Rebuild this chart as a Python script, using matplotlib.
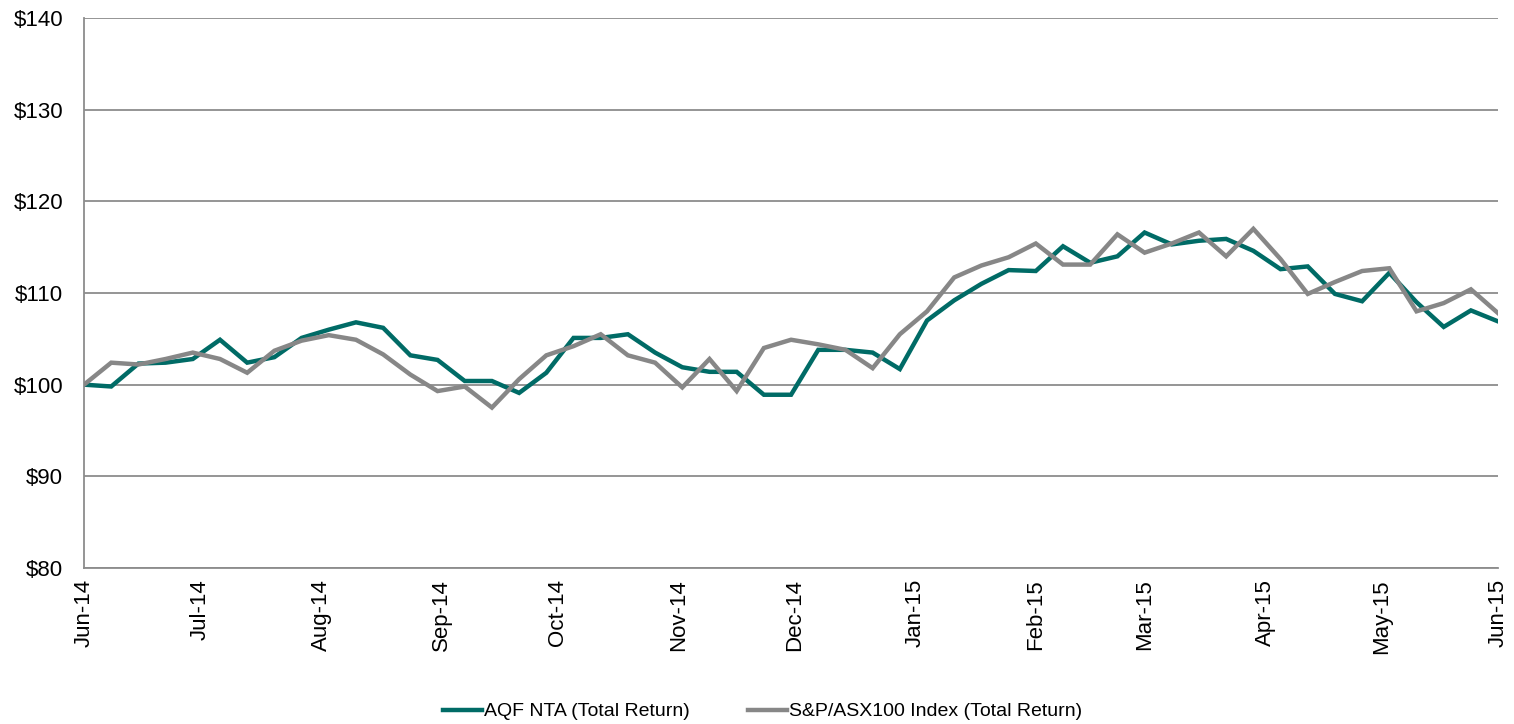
import matplotlib
matplotlib.use("Agg")
import matplotlib.pyplot as plt
import matplotlib.dates as mdates
import numpy as np
import pandas as pd

# weekly observations, Jun-14 to Jun-15
dates = pd.date_range("2014-06-06", periods=53, freq="7D")

aqf_nta = [
    100.0, 99.8, 102.3, 102.4, 102.8, 104.9, 102.4, 103.0, 105.1, 106.0,
    106.8, 106.2, 103.2, 102.7, 100.4, 100.4, 99.1, 101.3, 105.1, 105.1,
    105.5, 103.5, 101.9, 101.4, 101.4, 98.9, 98.9, 103.8, 103.8, 103.5,
    101.7, 107.0, 109.2, 111.0, 112.5, 112.4, 115.1, 113.3, 114.0, 116.6,
    115.3, 115.7, 115.9, 114.6, 112.6, 112.9, 109.9, 109.1, 112.2, 109.0,
    106.3, 108.1, 106.9,
]
asx100 = [
    100.0, 102.4, 102.2, 102.8, 103.5, 102.8, 101.3, 103.7, 104.8, 105.4,
    104.9, 103.3, 101.1, 99.3, 99.8, 97.5, 100.6, 103.2, 104.2, 105.5,
    103.2, 102.4, 99.7, 102.8, 99.3, 104.0, 104.9, 104.4, 103.8, 101.8,
    105.5, 108.0, 111.7, 113.0, 113.9, 115.4, 113.1, 113.1, 116.4, 114.4,
    115.4, 116.6, 114.0, 117.0, 113.7, 109.9, 111.2, 112.4, 112.7, 108.0,
    108.9, 110.4, 107.8,
]

# month ticks counted from the first observation, last one at the final date
tick_dates = [pd.Timestamp("2014-06-06") + pd.DateOffset(months=m) for m in range(12)]
tick_dates.append(dates[-1])

teal = "#006B66"
grey = "#878787"

plt.rcParams["font.family"] = ["Liberation Sans", "DejaVu Sans"]

fig = plt.figure(figsize=(15.14, 7.24), dpi=100)
ax = fig.add_axes([0.0555, 0.2155, 0.934, 0.7596])

ax.plot(dates, aqf_nta, color=teal, linewidth=3.2, label="AQF NTA (Total Return)",
        solid_joinstyle="miter", zorder=3)
ax.plot(dates, asx100, color=grey, linewidth=3.2, label="S&P/ASX100 Index (Total Return)",
        solid_joinstyle="miter", zorder=4)

ax.set_xlim(dates[0], dates[-1])
ax.set_ylim(80, 140)
ax.set_yticks(np.arange(80, 141, 10))
ax.set_yticklabels([f"${v}" for v in range(80, 141, 10)], fontsize=16)
ax.set_xticks(tick_dates)
ax.xaxis.set_major_formatter(mdates.DateFormatter("%b-%y"))
plt.setp(ax.get_xticklabels(), rotation=90, fontsize=16)

ax.grid(axis="y", color="#8C8C8C", linewidth=1.3)
ax.set_axisbelow(True)
ax.tick_params(axis="y", length=0, pad=15)
ax.tick_params(axis="x", length=0, pad=8)
for s in ["top", "right"]:
    ax.spines[s].set_visible(False)
for s in ["left", "bottom"]:
    ax.spines[s].set_color("#8C8C8C")
    ax.spines[s].set_linewidth(1.3)

fig.legend(loc="center", bbox_to_anchor=(0.5036, 0.017), ncol=2, frameon=False,
           fontsize=14, handlelength=2.0, handletextpad=0.12, columnspacing=3.0)

fig.savefig("out.png", dpi=100)
